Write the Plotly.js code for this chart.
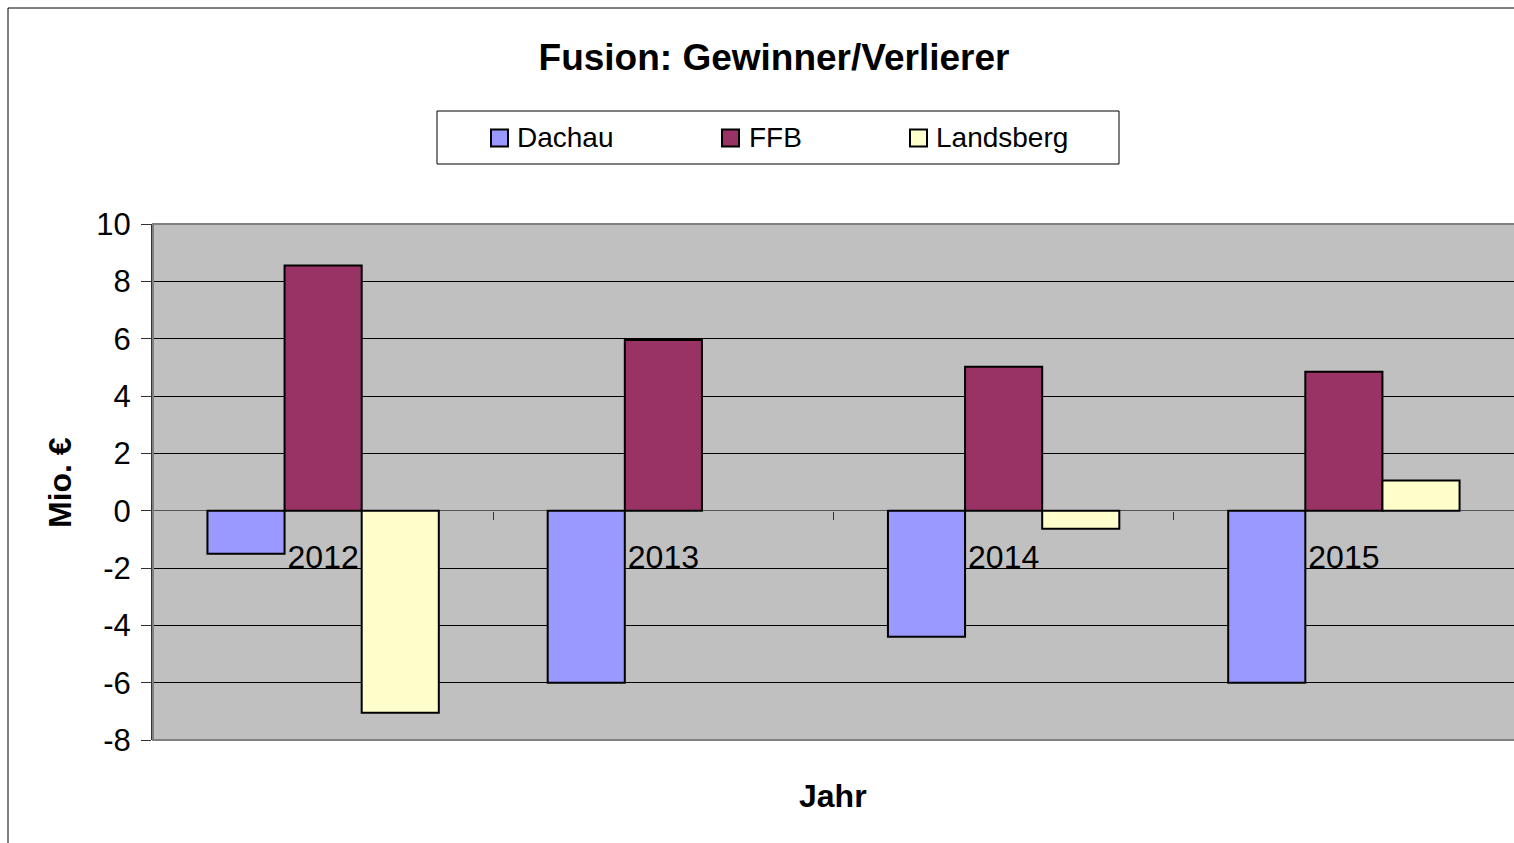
<!DOCTYPE html>
<html>
<head>
<meta charset="utf-8">
<script src="https://cdn.plot.ly/plotly-3.0.1.min.js"></script>
<style>html,body{margin:0;padding:0;background:#fff;}#chart{width:1514px;height:843px;}</style>
</head>
<body>
<div id="chart"></div>
<script>
const years = ["2012", "2013", "2014", "2015"];
const dachau = [-1.5, -6.0, -4.4, -6.0];
const ffb = [8.55, 5.95, 5.02, 4.85];
const landsberg = [-7.05, null, -0.63, 1.05];

const seriesNames = ["Dachau", "FFB", "Landsberg"];
const seriesColors = ["#9999FF", "#993366", "#FFFFCC"];
const seriesValues = [dachau, ffb, landsberg];

const yTickVals = [-8, -6, -4, -2, 0, 2, 4, 6, 8, 10];
const yTickText = ["-8", "-6", "-4", "-2", "0", "2", "4", "6", "8", "10"];

const FONT = "Liberation Sans, Arial, sans-serif";

const traces = seriesValues.map((vals, i) => ({
  type: "bar",
  name: seriesNames[i],
  x: years,
  y: vals,
  marker: { color: seriesColors[i], line: { color: "#000", width: 2 } },
  hoverinfo: "x+y+name"
}));

// plot-area pixel geometry
const W = 1514, H = 843, L = 153, R = 0, T = 224, B = 103;
const pw = W - L - R, ph = H - T - B;
const px = v => (v - L) / pw;           // page x -> paper x
const py = v => (H - B - v) / ph;       // page y -> paper y

const yMin = -8, yMax = 10;

// manual legend (box, swatches, labels)
const legendBox = { x0: 437, x1: 1119, y0: 111, y1: 164 };
const swatchX = [491, 722, 910];
const labelX = [515, 747, 934];
const swatchSize = 17, legendMidY = 138;

const shapes = [
  { type: "rect", xref: "paper", yref: "paper", x0: 0, x1: 1.01, y0: 0, y1: 1,
    line: { color: "#808080", width: 2 }, fillcolor: "rgba(0,0,0,0)", layer: "above" },
  { type: "rect", xref: "paper", yref: "paper", x0: px(8), x1: px(1530), y0: py(860), y1: py(8),
    line: { color: "#000", width: 1 }, fillcolor: "rgba(0,0,0,0)" },
  { type: "rect", xref: "paper", yref: "paper",
    x0: px(legendBox.x0), x1: px(legendBox.x1), y0: py(legendBox.y1), y1: py(legendBox.y0),
    line: { color: "#000", width: 1 }, fillcolor: "#fff" }
];
const annotations = [
  { text: "<b>Jahr</b>", xref: "paper", yref: "paper", x: px(833), y: py(796),
    xanchor: "center", yanchor: "middle", showarrow: false,
    font: { family: FONT, size: 32, color: "#000" } },
  { text: "<b>Mio. €</b>", xref: "paper", yref: "paper", x: px(60), y: py(483),
    xanchor: "center", yanchor: "middle", showarrow: false, textangle: -90,
    font: { family: FONT, size: 32, color: "#000" } }
];
seriesNames.forEach((name, i) => {
  shapes.push({ type: "rect", xref: "paper", yref: "paper",
    x0: px(swatchX[i]), x1: px(swatchX[i] + swatchSize),
    y0: py(legendMidY + swatchSize / 2), y1: py(legendMidY - swatchSize / 2),
    line: { color: "#000", width: 2 }, fillcolor: seriesColors[i] });
  annotations.push({ text: name, xref: "paper", yref: "paper",
    x: px(labelX[i]), y: py(legendMidY), xanchor: "left", yanchor: "middle",
    showarrow: false, font: { family: FONT, size: 28, color: "#000" } });
});

const layout = {
  width: W, height: H,
  margin: { l: L, r: R, t: T, b: B, pad: 0 },
  paper_bgcolor: "#fff",
  plot_bgcolor: "#C0C0C0",
  font: { family: FONT, color: "#000", size: 28 },
  barmode: "group",
  bargap: 0.32,
  bargroupgap: 0,
  title: {
    text: "<b>Fusion: Gewinner/Verlierer</b>",
    font: { family: FONT, size: 37, color: "#000" },
    x: 774 / W, xref: "container", xanchor: "center",
    y: 1 - 57 / H, yref: "container", yanchor: "middle"
  },
  showlegend: false,
  xaxis: {
    type: "category",
    anchor: "free",
    position: (0 - yMin) / (yMax - yMin),
    showline: false,
    showgrid: false,
    zeroline: false,
    ticks: "outside",
    tickson: "boundaries",
    ticklen: 8,
    tickwidth: 1,
    tickcolor: "#333",
    ticklabelstandoff: 24,
    tickfont: { family: FONT, size: 32, color: "#000" },
    fixedrange: true
  },
  yaxis: {
    range: [yMin, yMax],
    tickmode: "array",
    tickvals: yTickVals,
    ticktext: yTickText,
    showgrid: true,
    gridcolor: "#000",
    gridwidth: 1,
    zeroline: true,
    zerolinecolor: "#555",
    zerolinewidth: 1.5,
    showline: true,
    linecolor: "#333",
    linewidth: 2,
    ticks: "outside",
    ticklen: 10,
    tickwidth: 1,
    tickcolor: "#333",
    ticklabelstandoff: 4,
    tickfont: { family: FONT, size: 31, color: "#000" },
    fixedrange: true
  },
  shapes: shapes,
  annotations: annotations
};

Plotly.newPlot("chart", traces, layout, { displayModeBar: false, staticPlot: true });
</script>
</body>
</html>
